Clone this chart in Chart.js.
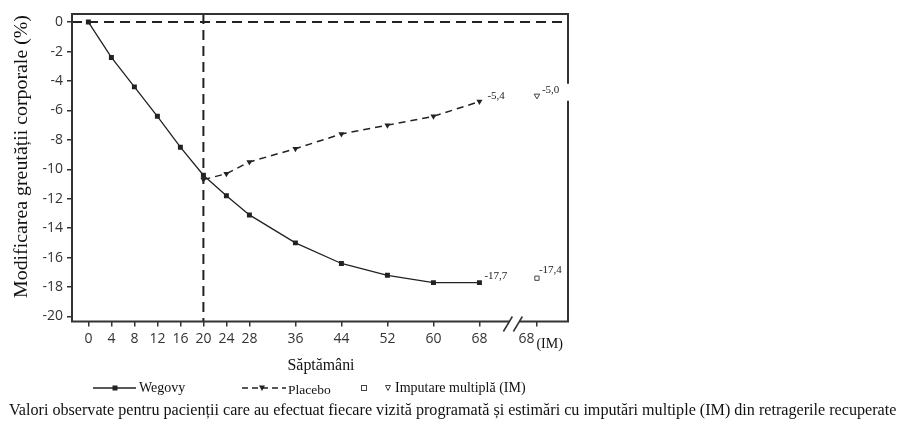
<!DOCTYPE html>
<html>
<head>
<meta charset="utf-8">
<script src="https://cdn.jsdelivr.net/npm/chart.js"></script>
<style>
  html, body { margin: 0; padding: 0; background: #fff; }
</style>
</head>
<body>
<canvas id="weightChart" width="904" height="431"></canvas>

<script>
  // values
  const weeks = [0, 4, 8, 12, 16, 20, 24, 28, 36, 44, 52, 60, 68];
  const wegovy = [0, -2.4, -4.4, -6.4, -8.5, -10.4, -11.8, -13.1, -15.0, -16.4, -17.2, -17.7, -17.7];
  const placeboWeeks = [20, 24, 28, 36, 44, 52, 60, 68];
  const placebo = [-10.7, -10.3, -9.5, -8.6, -7.6, -7.0, -6.4, -5.4];
  const imWegovy = -17.4;
  const imPlacebo = -5.0;
  const imPos = 78;       // x position of the "68 (IM)" column, after the axis break
  const breakAt = 73.9;   // where the // mark sits
  const yTicks = [0, -2, -4, -6, -8, -10, -12, -14, -16, -18, -20];
  const xTicks = weeks.concat([imPos]);

  const serif = "'Liberation Serif', 'Times New Roman', serif";
  const sans = "'Open Sans', sans-serif";
  const ink = '#222';

  const fmt = v => v.toFixed(1).replace('.', ',');

  // font size that makes text span a given width
  function fitText(ctx, text, width, baseSize) {
    ctx.font = baseSize + 'px ' + serif;
    const w = ctx.measureText(text).width;
    return baseSize * width / w;
  }

  const overlay = {
    id: 'overlay',
    beforeDatasetsDraw(chart) {
      const { ctx, chartArea: a, scales: { x, y } } = chart;
      ctx.save();
      ctx.strokeStyle = ink;
      ctx.lineWidth = 2;
      ctx.setLineDash([10, 6]);
      ctx.beginPath();
      ctx.moveTo(a.left, y.getPixelForValue(0));
      ctx.lineTo(a.right, y.getPixelForValue(0));
      ctx.moveTo(x.getPixelForValue(20), a.top);
      ctx.lineTo(x.getPixelForValue(20), a.bottom);
      ctx.stroke();
      ctx.restore();
    },
    afterDraw(chart) {
      const { ctx, chartArea: a, scales: { x, y } } = chart;
      ctx.save();

      // point labels
      ctx.fillStyle = ink;
      ctx.font = '11px ' + serif;
      ctx.textBaseline = 'middle';
      ctx.textAlign = 'left';
      const lastW = wegovy[wegovy.length - 1];
      const lastP = placebo[placebo.length - 1];
      ctx.fillText(fmt(lastP), x.getPixelForValue(68) + 8, y.getPixelForValue(lastP) - 5);
      ctx.fillText(fmt(lastW), x.getPixelForValue(68) + 5, y.getPixelForValue(lastW) - 7);

      // -5,0 sits on a white box that cuts the right frame
      const px = x.getPixelForValue(imPos), py = y.getPixelForValue(imPlacebo);
      ctx.fillStyle = '#fff';
      ctx.fillRect(px + 4, py - 12, a.right + 3 - (px + 4), 17);
      ctx.fillStyle = ink;
      ctx.fillText(fmt(imPlacebo), px + 5, py - 6);
      ctx.fillText(fmt(imWegovy), px + 2, y.getPixelForValue(imWegovy) - 8);

      // frame
      ctx.strokeStyle = '#333';
      ctx.lineWidth = 2;
      ctx.beginPath();
      ctx.moveTo(a.right, py - 12);
      ctx.lineTo(a.right, a.top);
      ctx.lineTo(a.left, a.top);
      ctx.lineTo(a.left, a.bottom);
      ctx.lineTo(a.right, a.bottom);
      ctx.lineTo(a.right, py + 5);
      ctx.stroke();

      // axis break
      const c = x.getPixelForValue(breakAt), b = a.bottom;
      ctx.fillStyle = '#fff';
      ctx.fillRect(c - 4, b - 2, 10, 4);
      ctx.lineWidth = 1.5;
      ctx.beginPath();
      ctx.moveTo(c - 10, b + 10); ctx.lineTo(c - 1, b - 5);
      ctx.moveTo(c, b + 10); ctx.lineTo(c + 9, b - 5);
      ctx.stroke();

      // "68(IM)" tick label, centred as a whole on its tick
      ctx.fillStyle = '#333';
      ctx.font = '14px ' + sans;
      ctx.textAlign = 'right';
      ctx.fillText('68', px - 2.5, b + 17.5);
      ctx.fillStyle = '#111';
      ctx.textAlign = 'left';
      ctx.font = '14px ' + serif;
      ctx.fillText('(IM)', px - 0.5, b + 22.5);

      // axis titles
      ctx.textAlign = 'center';
      const yTitle = 'Modificarea greutății corporale (%)';
      ctx.font = fitText(ctx, yTitle, 283, 20) + 'px ' + serif;
      ctx.translate(22, 156.5);
      ctx.rotate(-Math.PI / 2);
      ctx.fillText(yTitle, 0, 0);
      ctx.setTransform(chart.currentDevicePixelRatio, 0, 0, chart.currentDevicePixelRatio, 0, 0);

      const xTitle = 'Săptămâni';
      ctx.font = fitText(ctx, xTitle, 67, 16) + 'px ' + serif;
      ctx.fillText(xTitle, 321, 366);

      // legend
      const ly = 388;
      ctx.strokeStyle = ink;
      ctx.fillStyle = ink;
      ctx.lineWidth = 1.3;
      ctx.beginPath(); ctx.moveTo(93, ly); ctx.lineTo(136, ly); ctx.stroke();
      ctx.fillRect(112.5, ly - 2.5, 5, 5);
      ctx.setLineDash([6, 4]);
      ctx.beginPath(); ctx.moveTo(242, ly); ctx.lineTo(286, ly); ctx.stroke();
      ctx.setLineDash([]);
      ctx.beginPath();
      ctx.moveTo(259, ly - 2.5); ctx.lineTo(265, ly - 2.5); ctx.lineTo(262, ly + 3); ctx.closePath();
      ctx.fill();
      ctx.lineWidth = 1;
      ctx.strokeStyle = '#444';
      ctx.strokeRect(361.5, ly - 2.5, 5, 5);
      ctx.beginPath();
      ctx.moveTo(385.5, ly - 2.5); ctx.lineTo(390.5, ly - 2.5); ctx.lineTo(388, ly + 2.5); ctx.closePath();
      ctx.stroke();

      ctx.fillStyle = '#111';
      ctx.textAlign = 'left';
      ctx.font = '14px ' + serif;
      ctx.fillText('Wegovy', 139, ly);
      ctx.font = '13.5px ' + serif;
      ctx.fillText('Placebo', 288, ly + 2);
      ctx.font = '14px ' + serif;
      ctx.fillText('Imputare multiplă (IM)', 395, ly);

      // caption
      const caption = 'Valori observate pentru pacienții care au efectuat fiecare vizită programată și estimări cu imputări multiple (IM) din retragerile recuperate';
      ctx.font = fitText(ctx, caption, 888, 14) + 'px ' + serif;
      ctx.fillText(caption, 9, 411);

      ctx.restore();
    }
  };

  const ctx = document.getElementById('weightChart');

  new Chart(ctx, {
    type: 'line',
    data: {
      datasets: [
        {
          label: 'Wegovy',
          data: weeks.map((w, i) => ({ x: w, y: wegovy[i] })),
          borderColor: ink, borderWidth: 1.3,
          pointStyle: 'rect', pointRadius: 3.5,
          pointBackgroundColor: ink, pointBorderWidth: 0
        },
        {
          label: 'Placebo',
          data: placeboWeeks.map((w, i) => ({ x: w, y: placebo[i] })),
          borderColor: ink, borderWidth: 1.5, borderDash: [7, 5],
          pointStyle: 'triangle', rotation: 180, pointRadius: 3.5,
          pointBackgroundColor: ink, pointBorderWidth: 0
        },
        {
          label: 'IM Wegovy',
          data: [{ x: imPos, y: imWegovy }],
          showLine: false,
          pointStyle: 'rect', pointRadius: 3,
          pointBackgroundColor: '#fff', pointBorderColor: '#444', pointBorderWidth: 1
        },
        {
          label: 'IM Placebo',
          data: [{ x: imPos, y: imPlacebo }],
          showLine: false,
          pointStyle: 'triangle', rotation: 180, pointRadius: 3.2,
          pointBackgroundColor: '#fff', pointBorderColor: '#444', pointBorderWidth: 1
        }
      ]
    },
    options: {
      responsive: false,
      animation: false,
      layout: { padding: { top: 14, right: 336, left: 0, bottom: 0 } },
      plugins: { legend: { display: false }, tooltip: { enabled: false } },
      scales: {
        x: {
          type: 'linear', min: -2.85, max: 83.4,
          afterBuildTicks: s => { s.ticks = xTicks.map(v => ({ value: v })); },
          afterFit: s => { s.height = 109.5; },
          ticks: {
            autoSkip: false, maxRotation: 0, padding: 4,
            color: '#333', font: { family: sans, size: 14 },
            callback: v => (v === imPos ? '' : String(v))
          },
          grid: { display: true, drawOnChartArea: false, tickLength: 5, color: '#333', lineWidth: 1.5 },
          border: { display: false }
        },
        y: {
          min: -20.34, max: 0.55,
          afterBuildTicks: s => { s.ticks = yTicks.map(v => ({ value: v })); },
          afterFit: s => { s.width = 72; },
          ticks: {
            padding: 4, color: '#333', font: { family: sans, size: 14 },
            callback: v => String(v)
          },
          grid: { display: true, drawOnChartArea: false, tickLength: 5, color: '#333', lineWidth: 1.5 },
          border: { display: false }
        }
      }
    },
    plugins: [overlay]
  });
</script>
</body>
</html>
